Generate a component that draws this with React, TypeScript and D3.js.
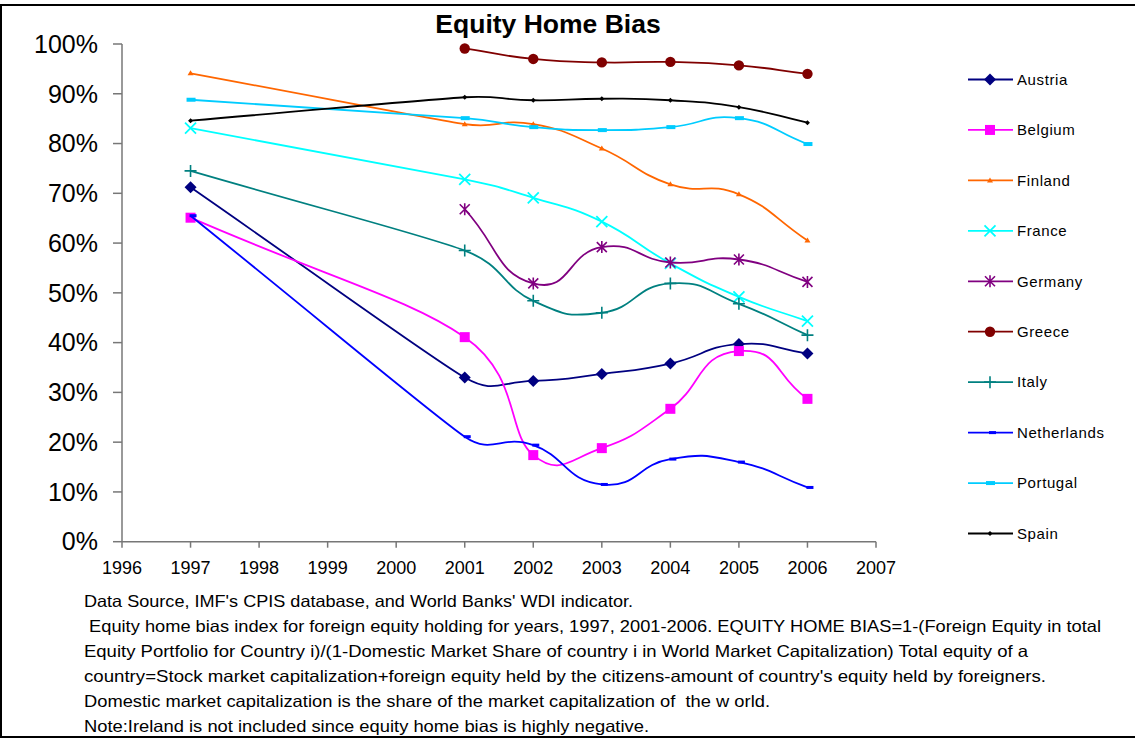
import * as d3 from 'd3'

// years on the x axis (1998-2000 have no observations)
const years = [1997, 2001, 2002, 2003, 2004, 2005, 2006]

// equity home bias, %
const austria = [71.2, 33.0, 32.3, 33.7, 35.8, 39.7, 37.8]
const belgium = [65.1, 41.1, 17.4, 18.8, 26.7, 38.3, 28.7]
const finland = [94.1, 83.9, 83.9, 79.0, 71.8, 69.8, 60.5]
const france = [83.1, 72.8, 69.1, 64.3, 55.9, 49.2, 44.3]
const germany = [null, 66.8, 51.9, 59.2, 56.1, 56.7, 52.2]
const greece = [null, 99.1, 97.0, 96.3, 96.4, 95.7, 94.0]
const italy = [74.5, 58.5, 48.4, 46.0, 51.9, 47.8, 41.5]
const netherlands = [65.5, 21.1, 19.4, 11.5, 16.6, 16.0, 10.9]
const portugal = [88.8, 85.1, 83.3, 82.7, 83.3, 85.1, 79.9]
const spain = [84.6, 89.3, 88.7, 89.0, 88.7, 87.3, 84.2]

const countries = ['Austria', 'Belgium', 'Finland', 'France', 'Germany', 'Greece', 'Italy', 'Netherlands', 'Portugal', 'Spain']
const seriesValues = [austria, belgium, finland, france, germany, greece, italy, netherlands, portugal, spain]

const xTicks = [1996, 1997, 1998, 1999, 2000, 2001, 2002, 2003, 2004, 2005, 2006, 2007]
const yTicks = [0, 10, 20, 30, 40, 50, 60, 70, 80, 90, 100]

const notes = [
  "Data Source, IMF's CPIS database, and World Banks' WDI indicator.",
  ' Equity home bias index for foreign equity holding for years, 1997, 2001-2006. EQUITY HOME BIAS=1-(Foreign Equity in total',
  'Equity Portfolio for Country i)/(1-Domestic Market Share of country i in World Market Capitalization) Total equity of a',
  "country=Stock market capitalization+foreign equity held by the citizens-amount of country's equity held by foreigners.",
  'Domestic market capitalization is the share of the market capitalization of  the w orld.',
  'Note:Ireland is not included since equity home bias is highly negative.',
]

// styling per series
const colors = ['#000080', '#ff00ff', '#ff6600', '#00ffff', '#800080', '#800000', '#008080', '#0000ff', '#00ccff', '#000000']
const markers = ['diamond', 'square', 'triangle', 'x', 'star', 'circle', 'plus', 'dash', 'wide', 'dot']

// note line layout: start x and rendered width
const noteLayout = [
  [84, 549], [84, 1017], [84, 944], [84, 962], [84, 686], [84, 565],
]

const FONT = "'Liberation Sans', Arial, Helvetica, sans-serif"

// spreadsheet-style smoothing: tangent from neighbours, handle length from the shorter adjacent segment
function smoothCurve(context: any) {
  const K = 0.5
  let pts: [number, number][] = []
  const dist = (a: number[], b: number[]) => Math.hypot(b[0] - a[0], b[1] - a[1])
  // handle offset at point i (unit tangent * K * shortest neighbouring segment)
  const handle = (i: number) => {
    const p0 = pts[i - 1] || pts[i]
    const p1 = pts[i]
    const p2 = pts[i + 1] || pts[i]
    const tx = p2[0] - p0[0]
    const ty = p2[1] - p0[1]
    const tl = Math.hypot(tx, ty) || 1
    const ds = [pts[i - 1] ? dist(p0, p1) : Infinity, pts[i + 1] ? dist(p1, p2) : Infinity]
    const len = K * Math.min(ds[0], ds[1])
    return [(tx / tl) * len, (ty / tl) * len]
  }
  return {
    areaStart() {},
    areaEnd() {},
    lineStart() {
      pts = []
    },
    point(x: number, y: number) {
      pts.push([+x, +y])
    },
    lineEnd() {
      const n = pts.length
      if (!n) return
      context.moveTo(pts[0][0], pts[0][1])
      for (let i = 0; i < n - 1; i++) {
        const h1 = handle(i)
        const h2 = handle(i + 1)
        context.bezierCurveTo(
          pts[i][0] + h1[0],
          pts[i][1] + h1[1],
          pts[i + 1][0] - h2[0],
          pts[i + 1][1] - h2[1],
          pts[i + 1][0],
          pts[i + 1][1]
        )
      }
    },
  }
}

function Marker({ type, x, y, c }: { type: string; x: number; y: number; c: string }) {
  switch (type) {
    case 'diamond':
      return <path d={`M${x},${y - 6}L${x + 6},${y}L${x},${y + 6}L${x - 6},${y}Z`} fill={c} />
    case 'square':
      return <rect x={x - 5} y={y - 5} width={10} height={10} fill={c} />
    case 'triangle':
      return <path d={`M${x},${y - 3}L${x + 3},${y + 2}L${x - 3},${y + 2}Z`} fill={c} />
    case 'x':
      return (
        <path d={`M${x - 5.5},${y - 5.5}L${x + 5.5},${y + 5.5}M${x + 5.5},${y - 5.5}L${x - 5.5},${y + 5.5}`} stroke={c} strokeWidth={1.8} />
      )
    case 'star':
      return (
        <path
          d={`M${x - 5},${y - 5}L${x + 5},${y + 5}M${x + 5},${y - 5}L${x - 5},${y + 5}M${x},${y - 6}L${x},${y + 6}`}
          stroke={c}
          strokeWidth={1.6}
        />
      )
    case 'circle':
      return <circle cx={x} cy={y} r={5.2} fill={c} />
    case 'plus':
      return <path d={`M${x - 6},${y}L${x + 6},${y}M${x},${y - 6}L${x},${y + 6}`} stroke={c} strokeWidth={1.6} />
    case 'dash':
      return <rect x={x - 1} y={y - 1.5} width={7} height={3} fill={c} />
    case 'wide':
      return <rect x={x - 4} y={y - 2} width={9} height={4} fill={c} />
    default:
      return <path d={`M${x},${y - 2.5}L${x + 2.5},${y}L${x},${y + 2.5}L${x - 2.5},${y}Z`} fill={c} />
  }
}

export default function App() {
  const x = d3.scaleLinear().domain([1996, 2007]).range([122, 876])
  const y = d3.scaleLinear().domain([0, 100]).range([541.7, 44])

  const line = d3
    .line<[number, number]>()
    .x((d) => x(d[0]))
    .y((d) => y(d[1]))
    .curve(smoothCurve as any)

  const legendY = d3.scalePoint().domain(countries).range([79.5, 533.5])

  return (
    <svg width={1135} height={740} style={{ position: 'absolute', left: 0, top: 0, background: '#fff' }} fontFamily={FONT}>
      <rect x={1} y={5} width={1140} height={732} fill="none" stroke="#000" strokeWidth={2} />

      <text x={548} y={33} textAnchor="middle" fontSize={26.5} fontWeight="bold">
        Equity Home Bias
      </text>

      {/* axes */}
      <g stroke="#777" strokeWidth={1.5}>
        <line x1={x(1996)} x2={x(1996)} y1={y(100)} y2={y(0)} />
        <line x1={x(1996)} x2={x(2007)} y1={y(0)} y2={y(0)} />
        {yTicks.map((t) => (
          <line key={t} x1={x(1996) - 9} x2={x(1996)} y1={y(t)} y2={y(t)} />
        ))}
        {xTicks.map((t) => (
          <line key={t} x1={x(t)} x2={x(t)} y1={y(0)} y2={y(0) + 6} />
        ))}
      </g>
      {yTicks.map((t) => (
        <text key={t} x={98} y={y(t)} dy="0.35em" textAnchor="end" fontSize={25}>
          {t}%
        </text>
      ))}
      {xTicks.map((t) => (
        <text key={t} x={x(t)} y={574} textAnchor="middle" fontSize={18}>
          {t}
        </text>
      ))}

      {/* series */}
      {seriesValues.map((vals, i) => {
        const pts = years
          .map((yr, j) => [yr, vals[j]] as [number, number | null])
          .filter((d) => d[1] != null) as [number, number][]
        return (
          <g key={countries[i]}>
            <path d={line(pts) || ''} fill="none" stroke={colors[i]} strokeWidth={1.8} />
            {pts.map((d) => (
              <Marker key={d[0]} type={markers[i]} x={x(d[0])} y={y(d[1])} c={colors[i]} />
            ))}
          </g>
        )
      })}

      {/* legend */}
      {countries.map((name, i) => {
        const ly = legendY(name) as number
        return (
          <g key={name}>
            <line x1={968} x2={1013} y1={ly} y2={ly} stroke={colors[i]} strokeWidth={1.8} />
            <Marker type={markers[i]} x={990} y={ly} c={colors[i]} />
            <text x={1017} y={ly} dy="0.35em" fontSize={15} letterSpacing={0.6}>
              {name}
            </text>
          </g>
        )
      })}

      {/* notes */}
      {notes.map((n, i) => (
        <text
          key={i}
          x={noteLayout[i][0]}
          y={607 + i * 25}
          fontSize={16.5}
          textLength={noteLayout[i][1]}
          lengthAdjust="spacingAndGlyphs"
          style={{ whiteSpace: 'pre' }}
        >
          {n}
        </text>
      ))}
    </svg>
  )
}
